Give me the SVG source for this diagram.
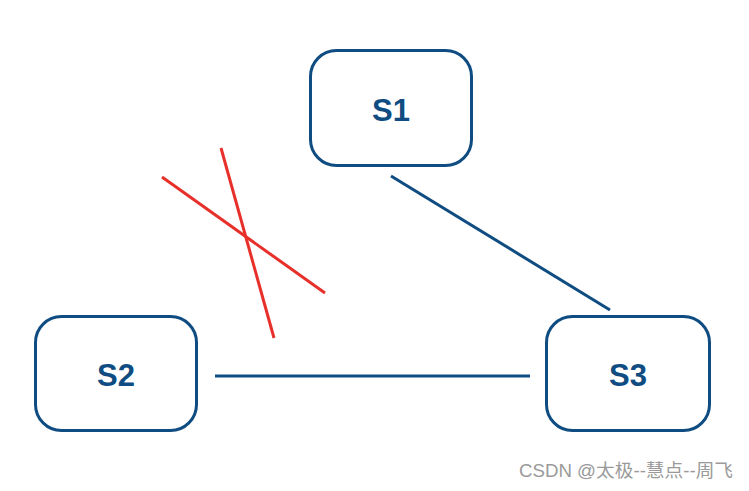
<svg xmlns="http://www.w3.org/2000/svg" width="749" height="491" viewBox="0 0 749 491">
<style>
.box{fill:#fff;stroke:#0F4C81;stroke-width:3}
.lbl{font-family:"Liberation Sans",Arial,sans-serif;font-weight:bold;font-size:31px;fill:#0F4C81;text-anchor:middle}
.conn{stroke:#0F4C81;stroke-width:3;fill:none}
.x{stroke:#E8302A;stroke-width:3;fill:none}
.wm{font-family:"Liberation Sans","Noto Sans CJK SC",sans-serif;font-size:18px;fill:#9a9a9a}
</style>
<rect width="749" height="491" fill="#fff"/>
<g id="connectors">
<line class="conn" x1="391" y1="176" x2="610" y2="310"/>
<line class="conn" x1="215" y1="376" x2="530" y2="376"/>
<line class="x" x1="162" y1="177" x2="325" y2="293"/>
<line class="x" x1="221" y1="148" x2="274" y2="338"/>
</g>
<g id="S1">
<rect class="box" x="310.5" y="50.5" width="161" height="115" rx="26"/>
<text class="lbl" x="391" y="121">S1</text>
</g>
<g id="S2">
<rect class="box" x="35.5" y="316.5" width="161" height="114" rx="26"/>
<text class="lbl" x="116" y="386">S2</text>
</g>
<g id="S3">
<rect class="box" x="546.5" y="316.5" width="163" height="114" rx="26"/>
<text class="lbl" x="628" y="386">S3</text>
</g>
<text class="wm" x="519" y="477" textLength="214" lengthAdjust="spacingAndGlyphs">CSDN @太极--慧点--周飞</text>
</svg>
